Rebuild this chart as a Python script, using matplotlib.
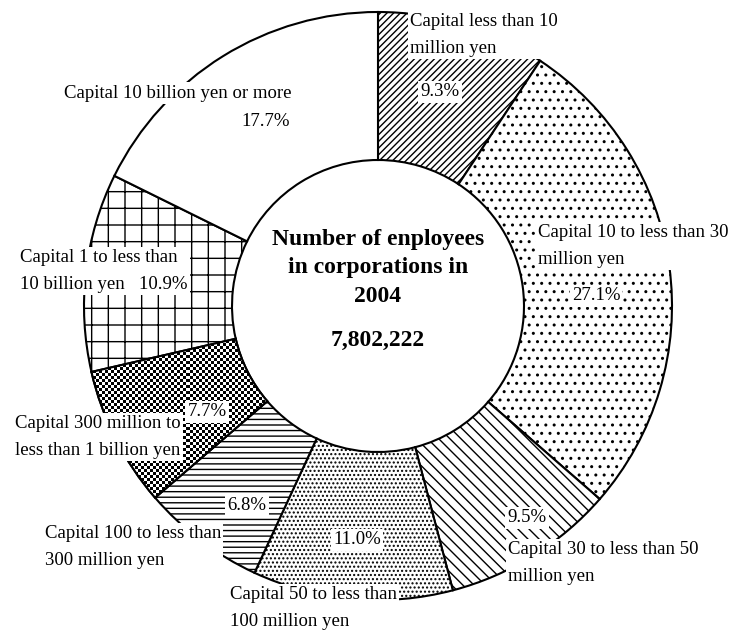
import numpy as np
import matplotlib.pyplot as plt
from matplotlib.patches import Wedge

plt.rcParams['font.family'] = ['Liberation Serif', 'DejaVu Serif']
plt.rcParams['hatch.linewidth'] = 1.0

shares = [9.3, 27.1, 9.5, 11.0, 6.8, 7.7, 10.9, 17.7]
names = ["Capital less than 10\nmillion yen",
         "Capital 10 to less than 30\nmillion yen",
         "Capital 30 to less than 50\nmillion yen",
         "Capital 50 to less than\n100 million yen",
         "Capital 100 to less than\n300 million yen",
         "Capital 300 million to\nless than 1 billion yen",
         "Capital 1 to less than\n10 billion yen",
         "Capital 10 billion yen or more"]
hatches = ['/////', '..', '\\\\\\', '....', '---', None, '+', '']
total = "7,802,222"

W, H = 740, 631
fig = plt.figure(figsize=(W / 100, H / 100), dpi=100)
ax = fig.add_axes([0, 0, 1, 1])

cx, cy = 378, H - 306
r_out, r_in = 294, 146
wedges, _ = ax.pie(shares, startangle=90, counterclock=False, radius=r_out,
                   center=(cx, cy), frame=True,
                   wedgeprops=dict(width=r_out - r_in, facecolor='white',
                                   edgecolor='black', linewidth=1.5))
for w, h in zip(wedges, hatches):
    if h:
        w.set_hatch(h)

# checkerboard fill for the 300 million - 1 billion slice
cell = 3
checker = (np.add.outer(np.arange(H // cell), np.arange(W // cell)) % 2)
w5 = wedges[5]
img = ax.imshow(checker, cmap='gray', interpolation='nearest',
                extent=(0, W, 0, H), zorder=w5.get_zorder() + 0.1)
img.set_clip_path(w5)
ax.add_patch(Wedge(w5.center, w5.r, w5.theta1, w5.theta2, width=w5.width,
                   facecolor='none', edgecolor='black', linewidth=1.5,
                   zorder=img.get_zorder() + 0.1))

ax.set_xlim(0, W)
ax.set_ylim(0, H)
ax.set_aspect('equal')
ax.axis('off')


def put(x, y, s, ha='left', va='center', **kw):
    # y measured from the top edge of the figure
    ax.text(x, H - y, s, ha=ha, va=va, fontsize=13.5, linespacing=1.7,
            zorder=5,
            bbox=dict(facecolor='white', edgecolor='none', pad=1.5), **kw)


pct = ["%.1f%%" % v for v in shares]

put(410, 35, names[0])
put(440, 92, pct[0], ha='center')
put(538, 246, names[1])
put(596, 296, pct[1], ha='center')
put(527, 518, pct[2], ha='center')
put(508, 563, names[2])
put(357, 540, pct[3], ha='center')
put(230, 608, names[3])
put(247, 505, pct[4], ha='center')
put(45, 547, names[4])
put(207, 412, pct[5], ha='center')
put(15, 437, names[5])
put(20, 271, names[6] + "   " + pct[6])
put(292, 93, names[7], ha='right')
put(290, 121, pct[7], ha='right')

ax.text(cx, H - 268, "Number of enployees\nin corporations in\n2004",
        ha='center', va='center', fontsize=17, fontweight='bold',
        linespacing=1.45, zorder=5)
ax.text(cx, H - 340, total, ha='center', va='center', fontsize=17,
        fontweight='bold', zorder=5)

fig.savefig("out.png", dpi=100)
